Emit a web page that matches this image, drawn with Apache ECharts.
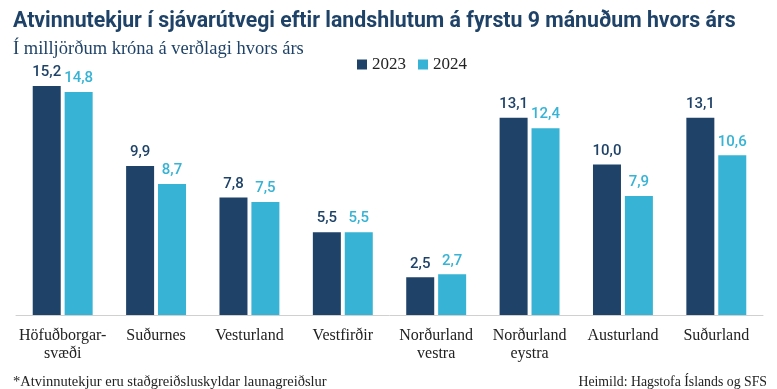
<!DOCTYPE html>
<html><head><meta charset="utf-8">
<script src="https://cdn.jsdelivr.net/npm/echarts@6/dist/echarts.min.js"></script>
<style>html,body{margin:0;padding:0;background:#fff}#c{width:777px;height:389px}</style>
</head><body><div id="c"></div>
<script>
var categories = ['Höfuðborgar-\nsvæði','Suðurnes','Vesturland','Vestfirðir','Norðurland\nvestra','Norðurland\neystra','Austurland','Suðurland'];
var values2023 = [15.2, 9.9, 7.8, 5.5, 2.5, 13.1, 10.0, 13.1];
var values2024 = [14.8, 8.7, 7.5, 5.5, 2.7, 12.4, 7.9, 10.6];
var seriesNames = ['2023','2024'];
var C1 = '#1f4368', C2 = '#36b3d5';
var fmt = function(p){ return p.value.toFixed(1).replace('.', ','); };
var chart = echarts.init(document.getElementById('c'));
chart.setOption({
  animation:false,
  title:[
    {text:'Atvinnutekjur í sjávarútvegi eftir landshlutum á fyrstu 9 mánuðum hvors árs', left:8, top:6,
     textStyle:{fontFamily:'Roboto', fontWeight:'bold', fontSize:21.3, color:'#1f4368'}},
    {text:'Í milljörðum króna á verðlagi hvors árs', left:8, top:35,
     textStyle:{fontFamily:'Liberation Serif', fontWeight:'normal', fontSize:18.5, color:'#1f4368'}},
    {text:'*Atvinnutekjur eru staðgreiðsluskyldar launagreiðslur', left:8, top:370,
     textStyle:{fontFamily:'Liberation Serif', fontWeight:'normal', fontSize:14.5, color:'#222'}},
    {text:'Heimild: Hagstofa Íslands og SFS', right:5, top:370,
     textStyle:{fontFamily:'Liberation Serif', fontWeight:'normal', fontSize:13.8, color:'#222'}}
  ],
  legend:{left:352, top:51, itemWidth:10, itemHeight:10, itemGap:12, icon:'rect',
    textStyle:{fontFamily:'Liberation Serif', fontSize:17, color:'#222'}, data:seriesNames},
  grid:{left:16, right:14, top:74, bottom:74},
  xAxis:{type:'category', data:categories,
    axisLine:{lineStyle:{color:'#d0d0d0', width:1}}, axisTick:{show:false},
    axisLabel:{interval:0, margin:12, fontFamily:'Liberation Serif', fontSize:16, color:'#222', lineHeight:18}},
  yAxis:{type:'value', min:0, max:16, show:false, splitLine:{show:false}},
  series:[
    {name:seriesNames[0], type:'bar', data:values2023, barWidth:28, barGap:'14%', itemStyle:{color:C1},
     label:{show:true, position:'top', distance:6, formatter:fmt, fontFamily:'Roboto', fontWeight:500, fontSize:15, color:C1}},
    {name:seriesNames[1], type:'bar', data:values2024, barWidth:28, itemStyle:{color:C2},
     label:{show:true, position:'top', distance:6, formatter:fmt, fontFamily:'Roboto', fontWeight:500, fontSize:15, color:C2}}
  ]
});
</script></body></html>
